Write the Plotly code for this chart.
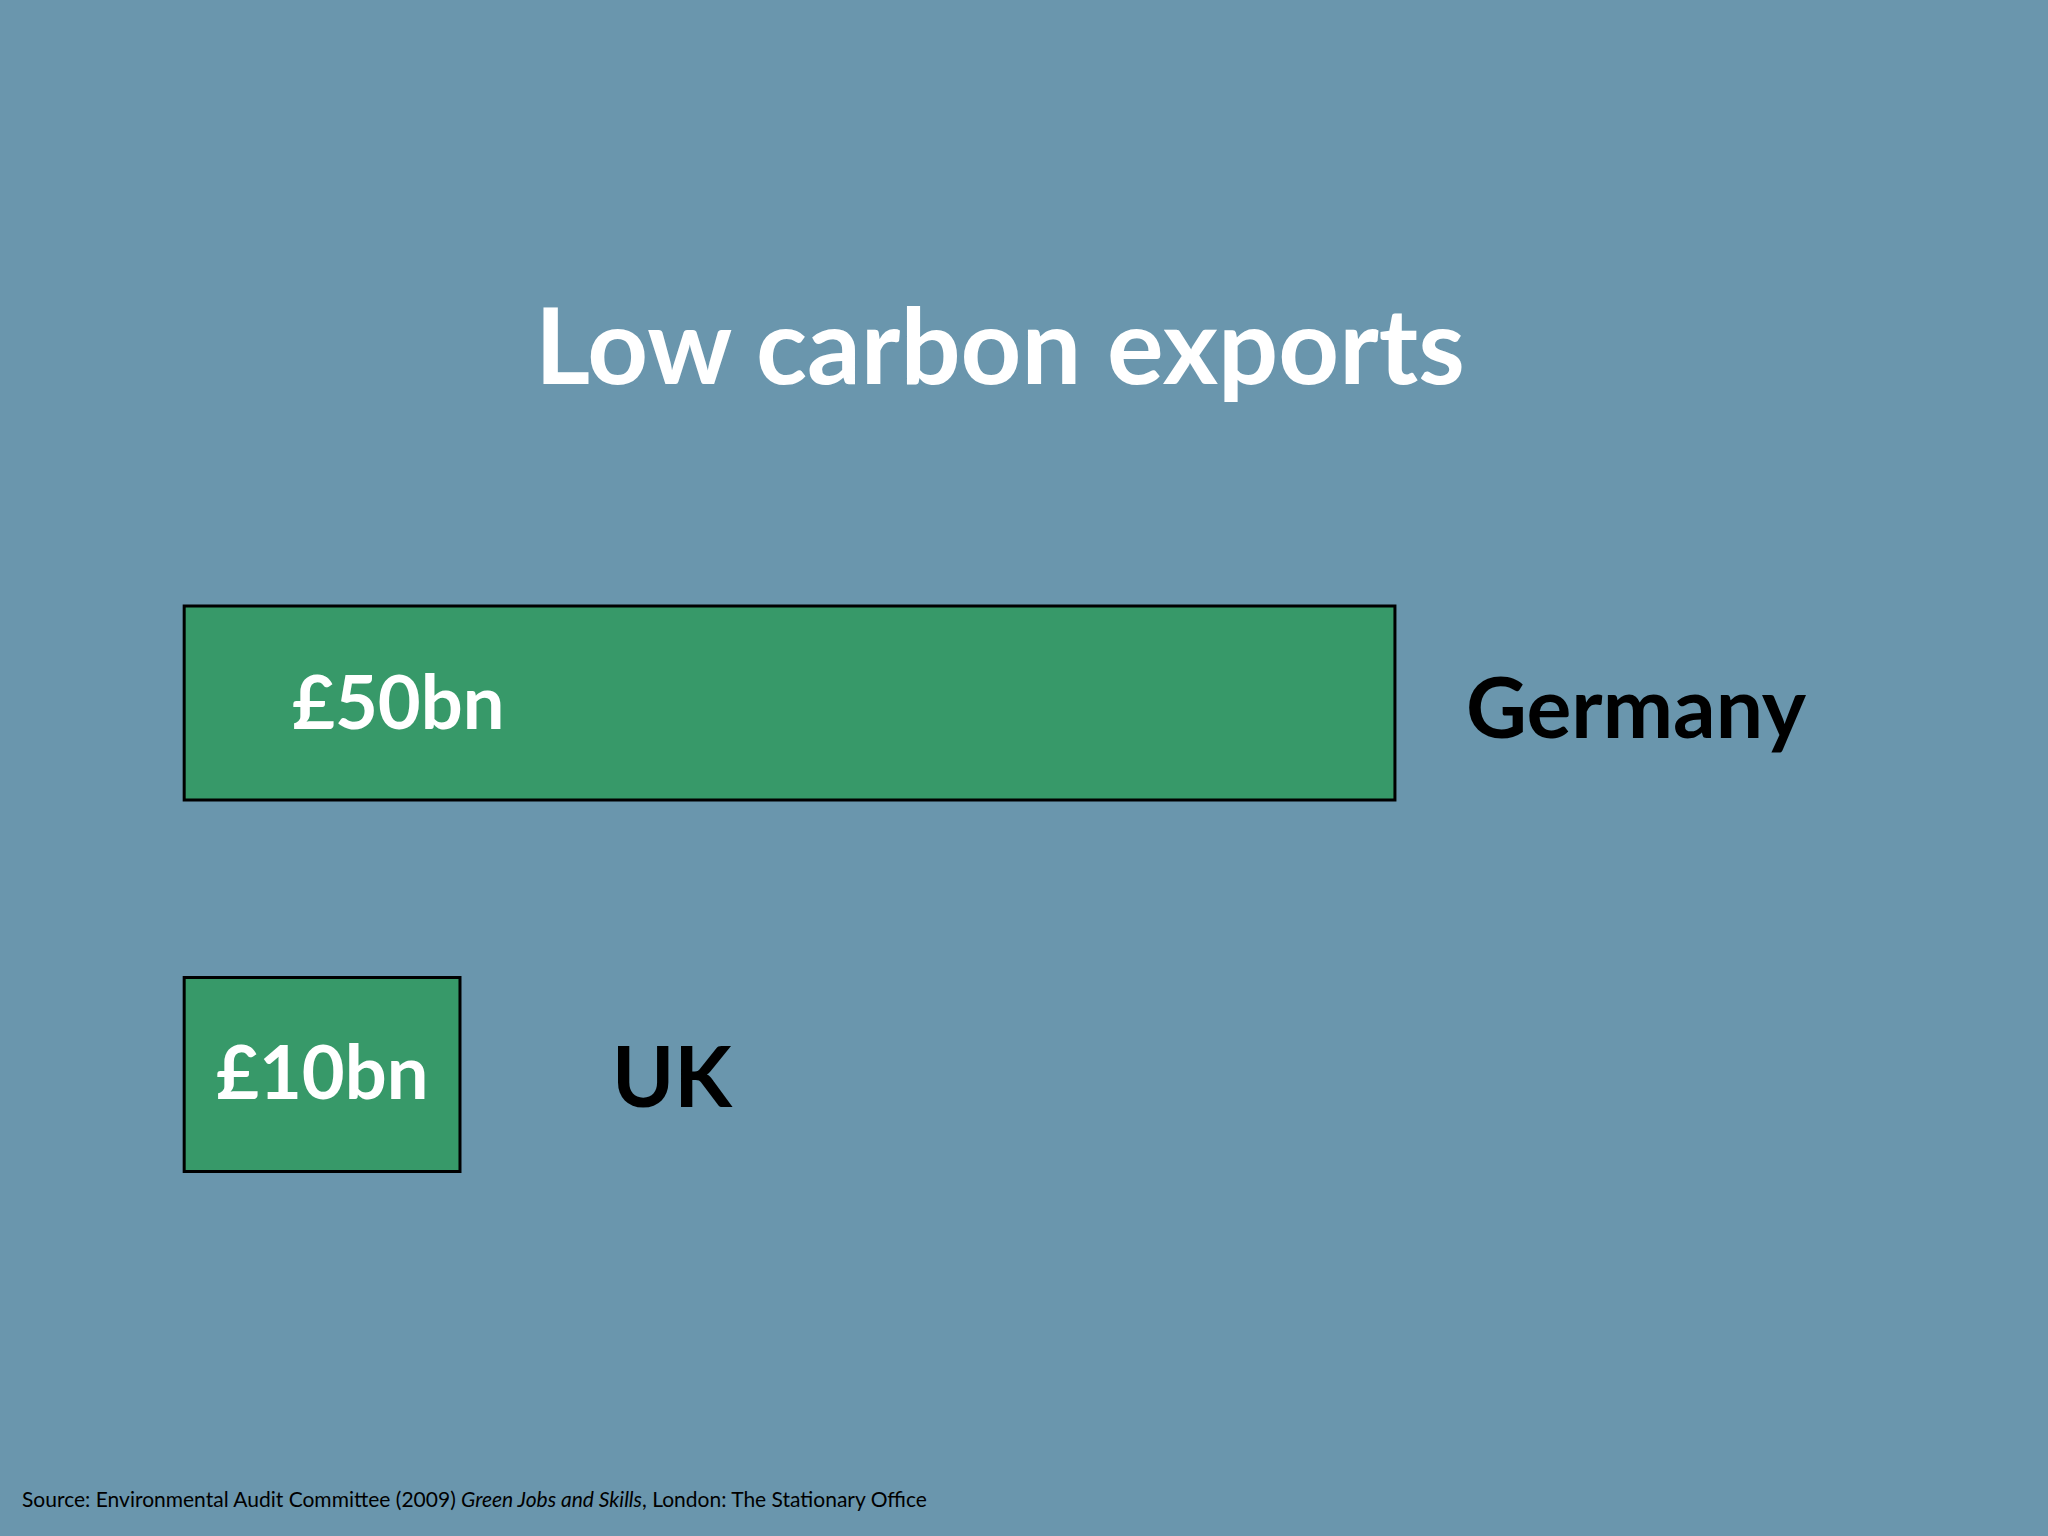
import plotly.graph_objects as go

# ---- data ----
countries = ["Germany", "UK"]
exports_bn = [50, 10]
value_labels = ["£50bn", "£10bn"]
title_text = "Low carbon exports"
source_text = ("Source: Environmental Audit Committee (2009) <i>Green Jobs and Skills</i>, "
               "London: The Stationary Office")

# ---- style ----
W, H = 2048, 1536
BG = "#6A96AD"
GREEN = "#379969"
FONT = "Lato"
BAR_BASE = -1.8          # visual offset where bars start
X_RANGE = [-9.68, 77.94]
Y_RANGE = [-1.242, 2.892]

fig = go.Figure()
fig.add_trace(go.Bar(
    y=countries,
    x=[v - BAR_BASE for v in exports_bn],
    base=BAR_BASE,
    orientation="h",
    width=0.522,
    marker=dict(color=GREEN, line=dict(color="#000000", width=3)),
    hoverinfo="skip",
))

def px_x(px):
    return X_RANGE[0] + px / W * (X_RANGE[1] - X_RANGE[0])

annotations = []
# value labels inside bars
annotations.append(dict(x=px_x(290), y=countries[0], xref="x", yref="y", text=value_labels[0],
                        xanchor="left", yanchor="middle", yshift=2, showarrow=False,
                        font=dict(family=FONT, size=74, color="white", weight="bold")))
annotations.append(dict(x=(BAR_BASE + exports_bn[1]) / 2, y=countries[1], xref="x", yref="y",
                        text=value_labels[1], xanchor="center", yanchor="middle", yshift=4,
                        showarrow=False,
                        font=dict(family=FONT, size=74, color="white", weight="bold")))
# category labels
annotations.append(dict(x=px_x(1464), y=countries[0], xref="x", yref="y", text=countries[0],
                        xanchor="left", yanchor="middle", yshift=-3, showarrow=False,
                        font=dict(family=FONT, size=84, color="black", weight="bold")))
annotations.append(dict(x=px_x(610), y=countries[1], xref="x", yref="y", text=countries[1],
                        xanchor="left", yanchor="middle", yshift=0, showarrow=False,
                        font=dict(family=FONT, size=84, color="black", weight="bold")))
# title
annotations.append(dict(x=1000 / W, y=1 - 343 / H, xref="paper", yref="paper", text=title_text,
                        xanchor="center", yanchor="middle", showarrow=False,
                        font=dict(family=FONT, size=106, color="white", weight="bold")))
# source
annotations.append(dict(x=20 / W, y=1 - 1498 / H, xref="paper", yref="paper", text=source_text,
                        xanchor="left", yanchor="middle", showarrow=False,
                        font=dict(family=FONT, size=21, color="black")))

fig.update_layout(
    width=W, height=H,
    margin=dict(l=0, r=0, t=0, b=0),
    paper_bgcolor=BG, plot_bgcolor=BG,
    showlegend=False,
    xaxis=dict(range=X_RANGE, visible=False, fixedrange=True),
    yaxis=dict(range=Y_RANGE, visible=False, type="category",
               categoryorder="array", categoryarray=["UK", "Germany"], fixedrange=True),
    annotations=annotations,
)

fig.write_html("out.html", config={"displayModeBar": False})

# remove the default page margin so the figure fills the window
with open("out.html", "r", encoding="utf-8") as f:
    html = f.read()
html = html.replace("<body>", f'<body style="margin:0;padding:0;background:{BG};">', 1)
with open("out.html", "w", encoding="utf-8") as f:
    f.write(html)
